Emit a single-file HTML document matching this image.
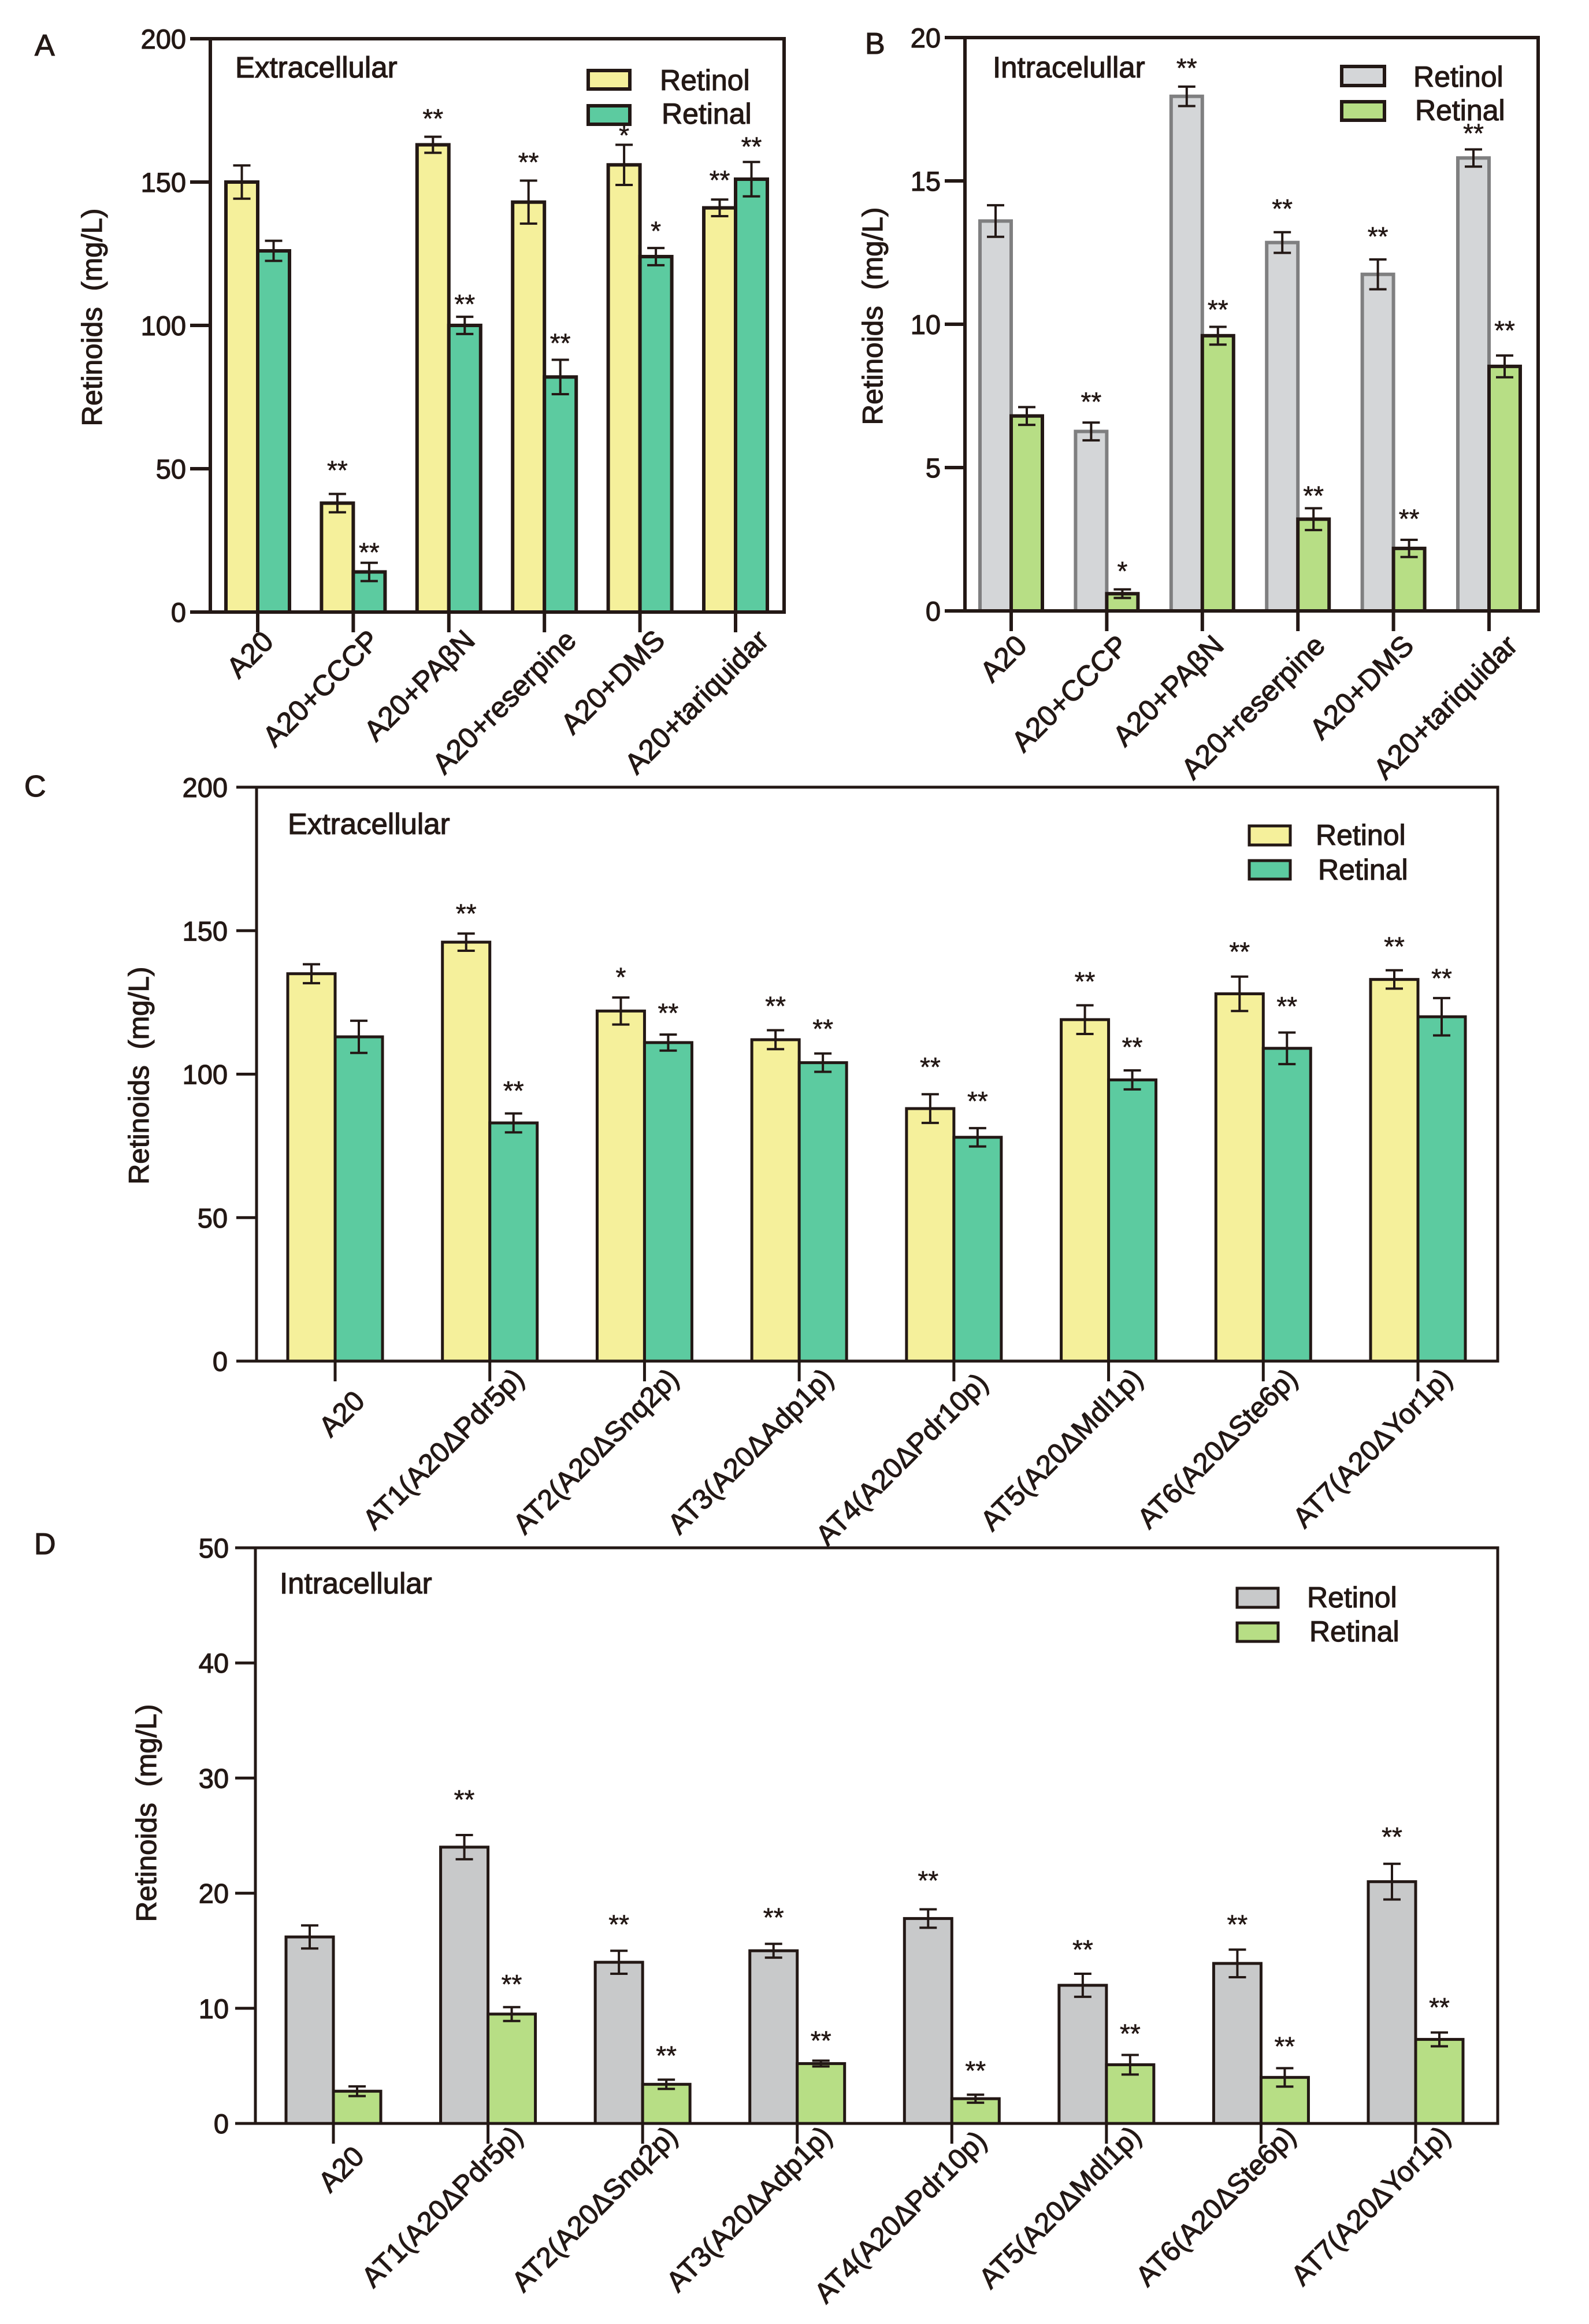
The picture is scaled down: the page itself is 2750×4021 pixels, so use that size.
<!DOCTYPE html>
<html lang="en">
<head>
<meta charset="utf-8">
<title>Retinoids bar charts</title>
<style>
html,body{margin:0;padding:0;background:#fff;}
svg{display:block;}
text{font-family:"Liberation Sans",Arial,sans-serif;fill:#231815;white-space:pre;}
.lbl{stroke:#231815;stroke-width:1.2px;}
.sig{stroke:#231815;stroke-width:.6px;}
</style>
</head>
<body>
<svg id="figure" width="2750" height="4021" viewBox="0 0 2750 4021" xmlns="http://www.w3.org/2000/svg">
  <rect x="0" y="0" width="2750" height="4021" fill="#fff"/>
  <text class="lbl" x="60" y="96" font-size="52">A</text>
  <text class="lbl" x="1497" y="93" font-size="52">B</text>
  <text class="lbl" x="42" y="1378" font-size="52">C</text>
  <text class="lbl" x="59" y="2689" font-size="52">D</text>

  <text class="lbl" x="407" y="134" font-size="51">Extracellular</text>
  <text class="lbl" x="1718" y="134" font-size="51">Intracelullar</text>
  <text class="lbl" x="498" y="1443" font-size="51">Extracellular</text>
  <text class="lbl" x="484" y="2757" font-size="51">Intracellular</text>

  <text class="lbl" transform="translate(176,549) rotate(-90)" text-anchor="middle" font-size="49.5">Retinoids  (mg/L)</text>
  <text class="lbl" transform="translate(1527,547) rotate(-90)" text-anchor="middle" font-size="49.5">Retinoids  (mg/L)</text>
  <text class="lbl" transform="translate(257,1861) rotate(-90)" text-anchor="middle" font-size="49.5">Retinoids  (mg/L)</text>
  <text class="lbl" transform="translate(270,3137) rotate(-90)" text-anchor="middle" font-size="49.5">Retinoids  (mg/L)</text>

  <g>
    <rect x="1018" y="122" width="72" height="32" fill="#f5f09b" stroke="#231815" stroke-width="6"/>
    <text class="lbl" x="1142" y="156" font-size="50">Retinol</text>
    <rect x="1018" y="183" width="72" height="32" fill="#5ccba0" stroke="#231815" stroke-width="6"/>
    <text class="lbl" x="1145" y="214" font-size="50">Retinal</text>
  </g>
  <g>
    <rect x="2322" y="115" width="74" height="33" fill="#d4d6d8" stroke="#231815" stroke-width="6"/>
    <text class="lbl" x="2446" y="150" font-size="50">Retinol</text>
    <rect x="2322" y="176" width="74" height="32" fill="#b7de85" stroke="#231815" stroke-width="6"/>
    <text class="lbl" x="2449" y="208" font-size="50">Retinal</text>
  </g>
  <g>
    <rect x="2162" y="1429" width="71" height="33" fill="#f5f09b" stroke="#231815" stroke-width="5"/>
    <text class="lbl" x="2277" y="1462" font-size="50">Retinol</text>
    <rect x="2162" y="1489" width="71" height="32" fill="#5ccba0" stroke="#231815" stroke-width="5"/>
    <text class="lbl" x="2281" y="1522" font-size="50">Retinal</text>
  </g>
  <g>
    <rect x="2141" y="2748" width="71" height="33" fill="#c8c9ca" stroke="#231815" stroke-width="5"/>
    <text class="lbl" x="2262" y="2781" font-size="50">Retinol</text>
    <rect x="2141" y="2808" width="71" height="32" fill="#b7de85" stroke="#231815" stroke-width="5"/>
    <text class="lbl" x="2266" y="2840" font-size="50">Retinal</text>
  </g>
</svg>
<script>
/* Panel A */
const aCategories = ['A20','A20+CCCP','A20+PAβN','A20+reserpine','A20+DMS','A20+tariquidar'];
const aTicks = [0,50,100,150,200];
const aRetinol = [150,38,163,143,156,141];
const aRetinolErr = [5.8,3.2,2.8,7.5,7,2.9];
const aRetinal = [126,14,100,82,124,151];
const aRetinalErr = [3.5,3.2,3,6,3,6];
const aRetinolSig = ['','**','**','**','*','**'];
const aRetinalSig = ['','**','**','**','*','**'];
const aRetinolSigGap = [0,8.7,6.8,6.9,3.7,7.2];
const aRetinalSigGap = [0,4.1,4.9,6.3,6.4,5.8];

/* Panel B */
const bCategories = ['A20','A20+CCCP','A20+PAβN','A20+reserpine','A20+DMS','A20+tariquidar'];
const bTicks = [0,5,10,15,20];
const bRetinol = [13.6,6.26,17.95,12.85,11.74,15.8];
const bRetinolErr = [0.55,0.31,0.34,0.36,0.52,0.3];
const bRetinal = [6.8,0.6,9.6,3.2,2.18,8.53];
const bRetinalErr = [0.31,0.15,0.31,0.38,0.3,0.38];
const bRetinolSig = ['','**','**','**','**','**'];
const bRetinalSig = ['','*','**','**','**','**'];
const bRetinolSigGap = [0,0.77,0.69,0.86,0.84,0.6];
const bRetinalSigGap = [0,0.68,0.64,0.48,0.78,0.92];

/* Panel C */
const cCategories = ['A20','AT1(A20ΔPdr5p)','AT2(A20ΔSnq2p)','AT3(A20ΔAdp1p)','AT4(A20ΔPdr10p)','AT5(A20ΔMdl1p)','AT6(A20ΔSte6p)','AT7(A20ΔYor1p)'];
const cTicks = [0,50,100,150,200];
const cRetinol = [135,146,122,112,88,119,128,133];
const cRetinolErr = [3.3,3,4.7,3.3,5,5,6,3.2];
const cRetinal = [113,83,111,104,78,98,109,120];
const cRetinalErr = [5.6,3.3,2.8,3.2,3.2,3.3,5.5,6.5];
const cRetinolSig = ['','**','*','**','**','**','**','**'];
const cRetinalSig = ['','**','**','**','**','**','**','**'];
const cRetinolSigGap = [0,7.4,7.5,8.9,9.9,8.7,9.1,8.7];
const cRetinalSigGap = [0,8.4,8,9,9.8,8.6,9.6,7.3];

/* Panel D */
const dCategories = ['A20','AT1(A20ΔPdr5p)','AT2(A20ΔSnq2p)','AT3(A20ΔAdp1p)','AT4(A20ΔPdr10p)','AT5(A20ΔMdl1p)','AT6(A20ΔSte6p)','AT7(A20ΔYor1p)'];
const dTicks = [0,10,20,30,40,50];
const dRetinol = [16.2,24,14,15,17.8,12,13.9,21];
const dRetinolErr = [1.0,1.05,1,0.6,0.8,1,1.2,1.55];
const dRetinal = [2.8,9.5,3.4,5.2,2.15,5.1,4,7.3];
const dRetinalErr = [0.42,0.6,0.4,0.25,0.35,0.85,0.8,0.6];
const dRetinolSig = ['','**','**','**','**','**','**','**'];
const dRetinalSig = ['','**','**','**','**','**','**','**'];
const dRetinolSigGap = [0,3.2,2.4,2.4,2.6,2.2,2.3,2.45];
const dRetinalSigGap = [0,2.1,2.2,1.85,2.2,1.95,2,2.3];

const NS = 'http://www.w3.org/2000/svg';
const INK = '#231815';
const figure = document.getElementById('figure');

function el(tag, attrs, parent) {
  const n = document.createElementNS(NS, tag);
  for (const k in attrs) n.setAttribute(k, attrs[k]);
  parent.appendChild(n);
  return n;
}

function drawPanel(p) {
  const g = el('g', {}, figure);
  
  
  const yMax = p.ticks[p.ticks.length - 1];
  const yOf = v => p.bottom - (v / yMax) * (p.bottom - p.top);
  const xOf = i => p.firstX + i * (p.lastX - p.firstX) / (p.categories.length - 1);

  function series(name, values, errs, sigs, gaps, sign, fill, stroke) {
    values.forEach((v, i) => {
      const y = yOf(v);
      const bx = sign < 0 ? xOf(i) - p.barW : xOf(i);
      const bar = el('rect', {x: bx, y: y, width: p.barW, height: p.bottom - y, fill: fill, stroke: stroke, 'stroke-width': p.lineW}, g);
      
      
    });
    values.forEach((v, i) => {
      const cx = xOf(i) + sign * p.barW / 2;
      const t = yOf(v + errs[i]), b = yOf(v - errs[i]);
      const d = 'M' + cx + ' ' + t + 'V' + b + 'M' + (cx - 15) + ' ' + t + 'H' + (cx + 15) + 'M' + (cx - 15) + ' ' + b + 'H' + (cx + 15);
      const eb = el('path', {d: d, fill: 'none', stroke: INK, 'stroke-width': 4}, g);
      
      
      if (sigs[i]) {
        const s = el('text', {x: cx, y: yOf(v + errs[i] + gaps[i]) + 18, 'text-anchor': 'middle', 'font-size': 46, class: 'sig'}, g);
        s.textContent = sigs[i];
        
        
      }
    });
  }
  series('retinol', p.retinol, p.retinolErr, p.retinolSig, p.retinolGap, -1, p.fillA, p.strokeA);
  series('retinal', p.retinal, p.retinalErr, p.retinalSig, p.retinalGap, 1, p.fillB, INK);

  const frame = el('path', {d: 'M' + p.left + ' ' + p.bottom + 'V' + p.top + 'H' + p.right + 'V' + p.bottom + 'H' + p.left, fill: 'none', stroke: INK, 'stroke-width': p.lineW}, g);
  
  

  p.ticks.forEach(v => {
    const y = yOf(v);
    const tk = el('line', {x1: p.left - 35, x2: p.left, y1: y, y2: y, stroke: INK, 'stroke-width': p.lineW}, g);
    
    
    const tl = el('text', {x: p.left - p.tickGap, y: y + 17, 'text-anchor': 'end', 'font-size': 47, class: 'lbl'}, g);
    tl.textContent = String(v);
    
    
  });

  p.categories.forEach((c, i) => {
    const x = xOf(i);
    const tk = el('line', {x1: x, x2: x, y1: p.bottom, y2: p.bottom + 35, stroke: INK, 'stroke-width': p.lineW}, g);
    
    
    const off = p.labelOffset(c);
    const tl = el('text', {transform: 'translate(' + (x + off[0]) + ',' + (p.bottom + off[1]) + ') rotate(-45)', 'text-anchor': 'end', 'font-size': p.labelSize, class: 'lbl'}, g);
    tl.textContent = c;
    
    
  });
}

drawPanel({id:'a', categories:aCategories, ticks:aTicks, retinol:aRetinol, retinolErr:aRetinolErr, retinal:aRetinal, retinalErr:aRetinalErr,
  retinolSig:aRetinolSig, retinalSig:aRetinalSig, retinolGap:aRetinolSigGap, retinalGap:aRetinalSigGap,
  left:364, right:1357, top:67, bottom:1059, firstX:446, lastX:1273, barW:55, lineW:6, tickGap:42,
  fillA:'#f5f09b', strokeA:INK, fillB:'#5ccba0', labelSize:50,
  labelOffset: c => c.length < 5 ? [30, 54] : [32 + 2 * c.length, 52]});

drawPanel({id:'b', categories:bCategories, ticks:bTicks, retinol:bRetinol, retinolErr:bRetinolErr, retinal:bRetinal, retinalErr:bRetinalErr,
  retinolSig:bRetinolSig, retinalSig:bRetinalSig, retinolGap:bRetinolSigGap, retinalGap:bRetinalSigGap,
  left:1670, right:2662, top:65, bottom:1057, firstX:1750, lastX:2577, barW:54, lineW:6, tickGap:42,
  fillA:'#d4d6d8', strokeA:'#7f7f80', fillB:'#b7de85', labelSize:50,
  labelOffset: c => [24 + 2 * c.length, 63]});

drawPanel({id:'c', categories:cCategories, ticks:cTicks, retinol:cRetinol, retinolErr:cRetinolErr, retinal:cRetinal, retinalErr:cRetinalErr,
  retinolSig:cRetinolSig, retinalSig:cRetinalSig, retinolGap:cRetinolSigGap, retinalGap:cRetinalSigGap,
  left:444, right:2592, top:1362, bottom:2355, firstX:580, lastX:2454, barW:82, lineW:5, tickGap:50,
  fillA:'#f5f09b', strokeA:INK, fillB:'#5ccba0', labelSize:49,
  labelOffset: c => c.length < 5 ? [54, 72] : [62, 33 + 8 * (c.length - 14)]});

drawPanel({id:'d', categories:dCategories, ticks:dTicks, retinol:dRetinol, retinolErr:dRetinolErr, retinal:dRetinal, retinalErr:dRetinalErr,
  retinolSig:dRetinolSig, retinalSig:dRetinalSig, retinolGap:dRetinolSigGap, retinalGap:dRetinalSigGap,
  left:442, right:2592, top:2678, bottom:3674, firstX:577, lastX:2450, barW:82, lineW:5, tickGap:46,
  fillA:'#c8c9ca', strokeA:INK, fillB:'#b7de85', labelSize:49,
  labelOffset: c => c.length < 5 ? [56, 60] : [63, 25 + 8 * (c.length - 14)]});
</script>
</body>
</html>
